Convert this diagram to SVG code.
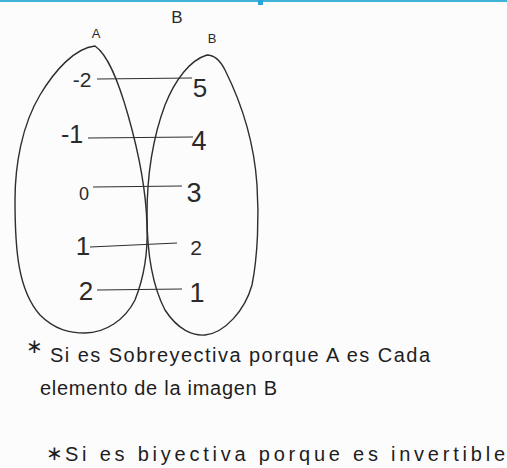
<svg xmlns="http://www.w3.org/2000/svg" width="507" height="468" viewBox="0 0 507 468">
<style>
.ov{fill:none;stroke:#2e2e2e;stroke-width:1.4}
.ln{stroke:#2e2e2e;stroke-width:1.2;fill:none}
.n{font-family:"Liberation Sans",Arial,sans-serif;fill:#2a2a2a;text-anchor:middle}
.t{font-family:"Liberation Sans",Arial,sans-serif;fill:#1e1e1e;font-size:20px}
</style>
<rect width="507" height="468" fill="#fcfcfc"/>
<rect x="0" y="0" width="507" height="2" fill="#3fb3d6"/>
<rect x="258" y="0" width="5" height="5" fill="#2aa5d8"/>
<text class="n" x="177" y="23" font-size="17">B</text>
<g id="setA">
<path class="ov" d="M95,46 C75,48 55,70 40,95 C22,125 15,165 15,200 C15,250 18,290 40,315 C55,330 70,333 85,333 C105,333 125,320 135,300 C145,275 148,250 147,225 C146,190 138,150 128,115 C118,80 108,55 95,46 Z"/>
<text class="n" x="96" y="38" font-size="13">A</text>
<text class="n" x="82" y="87" font-size="21">-2</text>
<text class="n" x="72" y="143" font-size="25">-1</text>
<text class="n" x="84" y="200" font-size="18">0</text>
<text class="n" x="83" y="255" font-size="26">1</text>
<text class="n" x="86" y="300" font-size="26">2</text>
</g>
<g id="setB">
<path class="ov" d="M207,55 C190,60 175,80 165,105 C152,140 147,180 147,215 C147,255 152,285 165,310 C178,330 193,336 205,335 C225,333 245,310 252,285 C258,255 259,215 257,185 C254,140 240,100 225,70 C220,60 213,55 207,55 Z"/>
<text class="n" x="212" y="43" font-size="13">B</text>
<text class="n" x="200" y="97" font-size="26">5</text>
<text class="n" x="199" y="150" font-size="27">4</text>
<text class="n" x="194" y="202" font-size="27">3</text>
<text class="n" x="196" y="255" font-size="21">2</text>
<text class="n" x="197" y="302" font-size="27">1</text>
</g>
<g id="connectors">
<line class="ln" x1="97" y1="79" x2="192" y2="78"/>
<line class="ln" x1="88" y1="138" x2="193" y2="137"/>
<line class="ln" x1="93" y1="187" x2="182" y2="186"/>
<line class="ln" x1="90" y1="247" x2="177" y2="243"/>
<line class="ln" x1="97" y1="290" x2="182" y2="289"/>
</g>
<g id="notes">
<text class="t" x="26" y="353" font-size="24">∗</text>
<text class="t" x="50" y="362" textLength="380">Si es Sobreyectiva porque A es Cada</text>
<text class="t" x="40" y="395" textLength="237">elemento de la imagen B</text>
<text class="t" x="46" y="460" font-size="18">∗</text>
<text class="t" x="65" y="461" textLength="440">Si es biyectiva porque es invertible</text>
</g>
</svg>
